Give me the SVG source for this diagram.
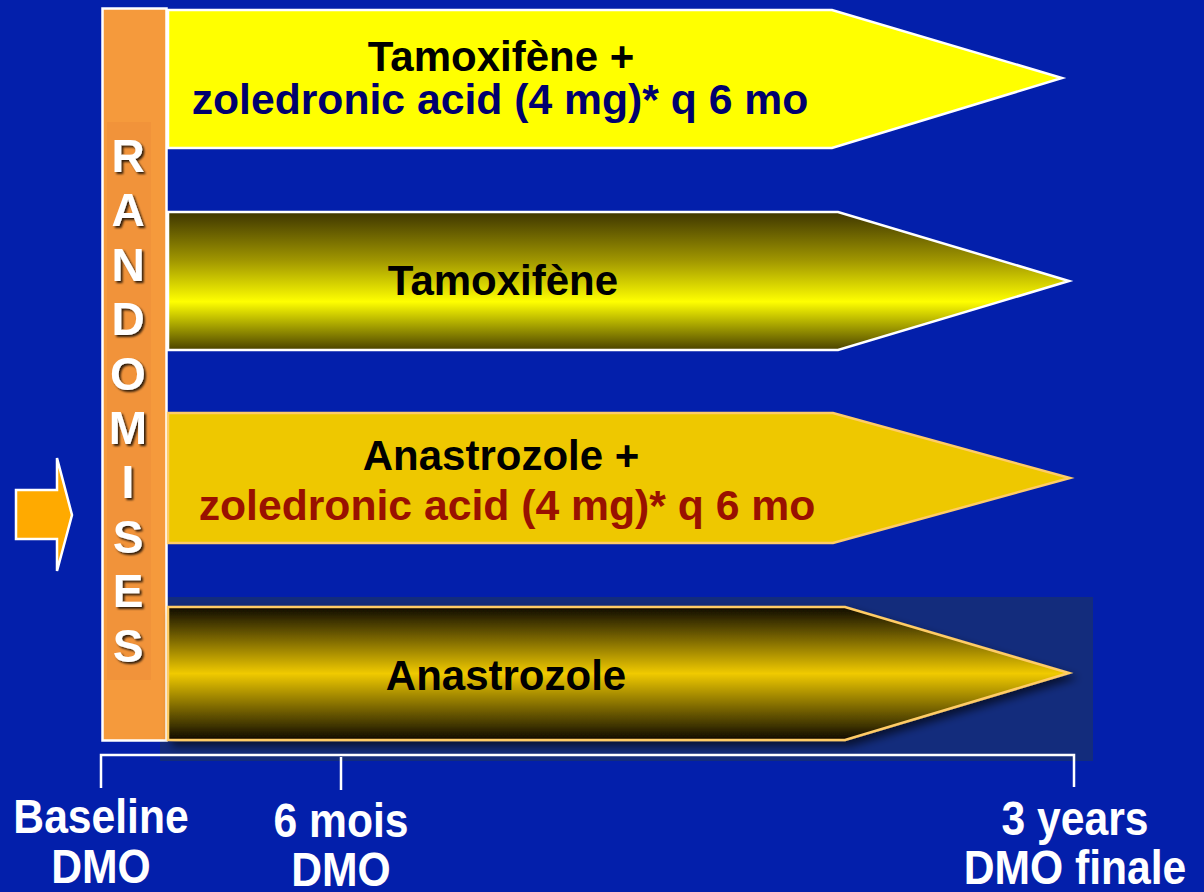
<svg xmlns="http://www.w3.org/2000/svg" width="1204" height="892" viewBox="0 0 1204 892">
<defs>
<linearGradient id="g2" x1="0" y1="0" x2="0" y2="1">
<stop offset="0" stop-color="#3e3600"/>
<stop offset="0.35" stop-color="#a09600"/>
<stop offset="0.65" stop-color="#ffff00"/>
<stop offset="1" stop-color="#4a4200"/>
</linearGradient>
<linearGradient id="g4" x1="0" y1="0" x2="0" y2="1">
<stop offset="0" stop-color="#0e0a00"/>
<stop offset="0.5" stop-color="#f0ca00"/>
<stop offset="1" stop-color="#0e0a00"/>
</linearGradient>
<filter id="sh" x="-5%" y="-10%" width="115%" height="130%">
<feDropShadow dx="5" dy="5" stdDeviation="4" flood-color="#000" flood-opacity="0.6"/>
</filter>
<filter id="ts" x="-20%" y="-20%" width="150%" height="150%">
<feDropShadow dx="2" dy="2" stdDeviation="0.8" flood-color="#000" flood-opacity="0.8"/>
</filter>
</defs>
<style>
.t{font-family:"Liberation Sans",Arial,sans-serif;font-weight:bold;font-size:42px;text-anchor:middle}
.z{font-size:42.7px}
.r{font-family:"Liberation Sans",Arial,sans-serif;font-weight:bold;font-size:46px;text-anchor:middle;fill:#fff}
.b{font-family:"Liberation Sans",Arial,sans-serif;font-weight:bold;font-size:49px;text-anchor:middle;fill:#fff}
.w{stroke:#fff;stroke-width:2.5}
.o{stroke:#ffcc66;stroke-width:2.5}
.tl{stroke:#fff;stroke-width:2.5;fill:none}
</style>
<rect width="1204" height="892" fill="#031fab"/>
<rect x="160" y="597" width="933" height="164" fill="#132c7c"/>

<g id="randomises">
<rect x="102.5" y="8.5" width="64" height="732" fill="#f59a3c" stroke="#fff" stroke-width="2.5"/>
<rect x="107" y="122" width="44" height="558" fill="#f1933a"/>
<g filter="url(#ts)">
<text class="r" x="128" y="172">R</text>
<text class="r" x="128" y="226">A</text>
<text class="r" x="128" y="281">N</text>
<text class="r" x="128" y="335">D</text>
<text class="r" x="128" y="390">O</text>
<text class="r" x="128" y="444">M</text>
<text class="r" x="128" y="498">I</text>
<text class="r" x="128" y="553">S</text>
<text class="r" x="128" y="607">E</text>
<text class="r" x="128" y="662">S</text>
</g>
</g>

<g id="entry-arrow">
<polygon points="16,490 57,490 57,458 72,515 57,571 57,539 16,539" fill="#ffaa00" stroke="#fff" stroke-width="2.5"/>
</g>

<g id="arm1">
<polygon class="w" points="168,10 832,10 1062,78 832,148 168,148" fill="#ffff00"/>
<text class="t" x="501" y="71" fill="#000">Tamoxifène +</text>
<text class="t z" x="500" y="114" fill="#00006e">zoledronic acid (4 mg)* q 6 mo</text>
</g>

<g id="arm2">
<polygon class="w" points="168,212 838,212 1069,281 838,350 168,350" fill="url(#g2)"/>
<text class="t" x="503" y="295" fill="#000">Tamoxifène</text>
</g>

<g id="arm3">
<polygon class="o" points="168,413 833,413 1070,478 833,543 168,543" fill="#eec800"/>
<text class="t" x="501" y="470" fill="#000">Anastrozole +</text>
<text class="t z" x="507" y="520" fill="#991100">zoledronic acid (4 mg)* q 6 mo</text>
</g>

<g id="arm4">
<polygon class="o" points="168,607 845,607 1069,673 845,740 168,740" fill="url(#g4)" filter="url(#sh)"/>
<text class="t" x="506" y="690" fill="#000">Anastrozole</text>
</g>

<g id="timeline">
<polyline class="tl" points="101,788 101,755 1074,755 1074,787"/>
<line class="tl" x1="341" y1="757" x2="341" y2="790"/>
</g>

<g id="labels">
<g transform="translate(101,0) scale(0.87,1)">
<text class="b" x="0" y="833">Baseline</text>
<text class="b" x="0" y="883">DMO</text>
</g>
<g transform="translate(341,0) scale(0.87,1)">
<text class="b" x="0" y="837">6 mois</text>
<text class="b" x="0" y="886">DMO</text>
</g>
<g transform="translate(1075,0) scale(0.87,1)">
<text class="b" x="0" y="835">3 years</text>
<text class="b" x="0" y="884">DMO finale</text>
</g>
</g>
</svg>
